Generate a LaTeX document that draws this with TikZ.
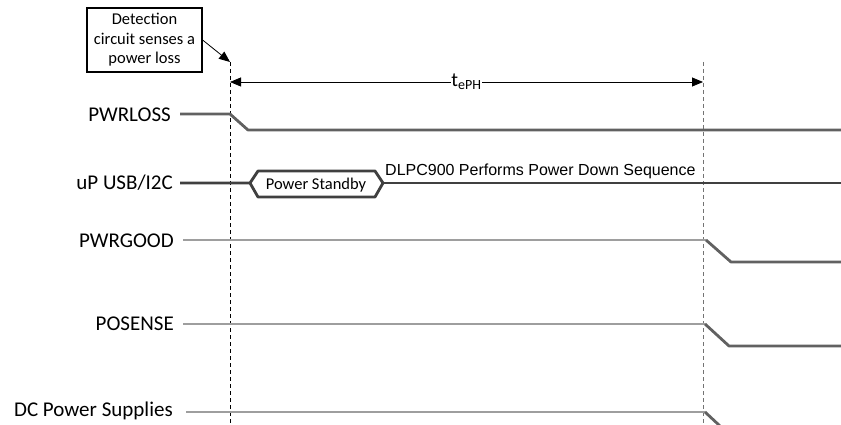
\documentclass[tikz,border=0pt]{standalone}
\usepackage{fontspec}
\setmainfont{Carlito}
\newfontfamily\arialf{Liberation Sans}
\usetikzlibrary{arrows.meta}
\begin{document}
\begin{tikzpicture}[x=1pt,y=-1pt]
\useasboundingbox (0,0) rectangle (841,425);
\tikzset{
  lbl/.style={anchor=east, font=\fontsize{21}{24}\selectfont, inner sep=0pt},
  sigdark/.style={draw=black!62, line width=2.8pt, line join=round},
  siglight/.style={draw=black!38, line width=2.8pt},
  guide/.style={dashed, line width=0.8pt, dash pattern=on 4pt off 3pt},
  tip/.style={-{Triangle[length=11pt,width=9pt]}}
}
% callout box
\node[draw, line width=1.2pt, minimum width=115pt, minimum height=64pt, align=center,
      font=\fontsize{16.5}{19.5}\selectfont, inner sep=2pt] (box) at (144.5,40)
      {Detection\\circuit senses a\\power loss};
\coordinate (tA) at (230,62);
\coordinate (tB) at (703,62);
\coordinate (bA) at (230,425);
\coordinate (bB) at (703,425);
\draw[guide, black] (tA) -- (bA);
\draw[guide, black!55] (tB) -- (bB);
\draw[tip, line width=0.8pt] (box.east) -- (tA);
% dimension arrow
\coordinate (dA) at (230,82);
\coordinate (dB) at (703,82);
\draw[{Triangle[length=11pt,width=9pt]}-{Triangle[length=11pt,width=9pt]}, line width=0.8pt] (dA) -- (dB)
  node[midway, fill=white, inner sep=0.5pt, font=\fontsize{20}{22}\selectfont] (tlab) {t\textsubscript{ePH}};
% PWRLOSS
\node[lbl] (l1) at (171,115) {PWRLOSS};
\draw[sigdark] (180,114) -- (230,114) -- (248,130) -- (841,130);
% uP USB/I2C
\node[lbl] (l2) at (173,183) {uP USB/I2C};
\draw[sigdark, draw=black!75] (180,183) -- (250,183) -- (258,171) -- (375,171) -- (383,183) -- (375,197) -- (258,197) -- (250,183);
\draw[sigdark, draw=black!75] (383,183) -- (841,183);
\node[font=\fontsize{16.5}{19}\selectfont, inner sep=0pt] (ps) at (316,185) {Power Standby};
\node[anchor=west, font=\arialf\fontsize{16}{19}\selectfont, inner sep=0pt] (dl) at (385,171) {DLPC900 Performs Power Down Sequence};
% PWRGOOD
\node[lbl] (l3) at (174,241) {PWRGOOD};
\draw[siglight] (183,240) -- (706,240);
\draw[sigdark] (706,240) -- (731,262) -- (841,262);
% POSENSE
\node[lbl] (l4) at (174,324) {POSENSE};
\draw[siglight] (183,324) -- (705,324);
\draw[sigdark] (705,324) -- (729,346) -- (841,346);
% DC Power Supplies
\node[lbl] (l5) at (173,411) {DC Power Supplies};
\draw[siglight] (186,412) -- (705,412);
\draw[sigdark] (705,412) -- (720,426);
\end{tikzpicture}
\end{document}
